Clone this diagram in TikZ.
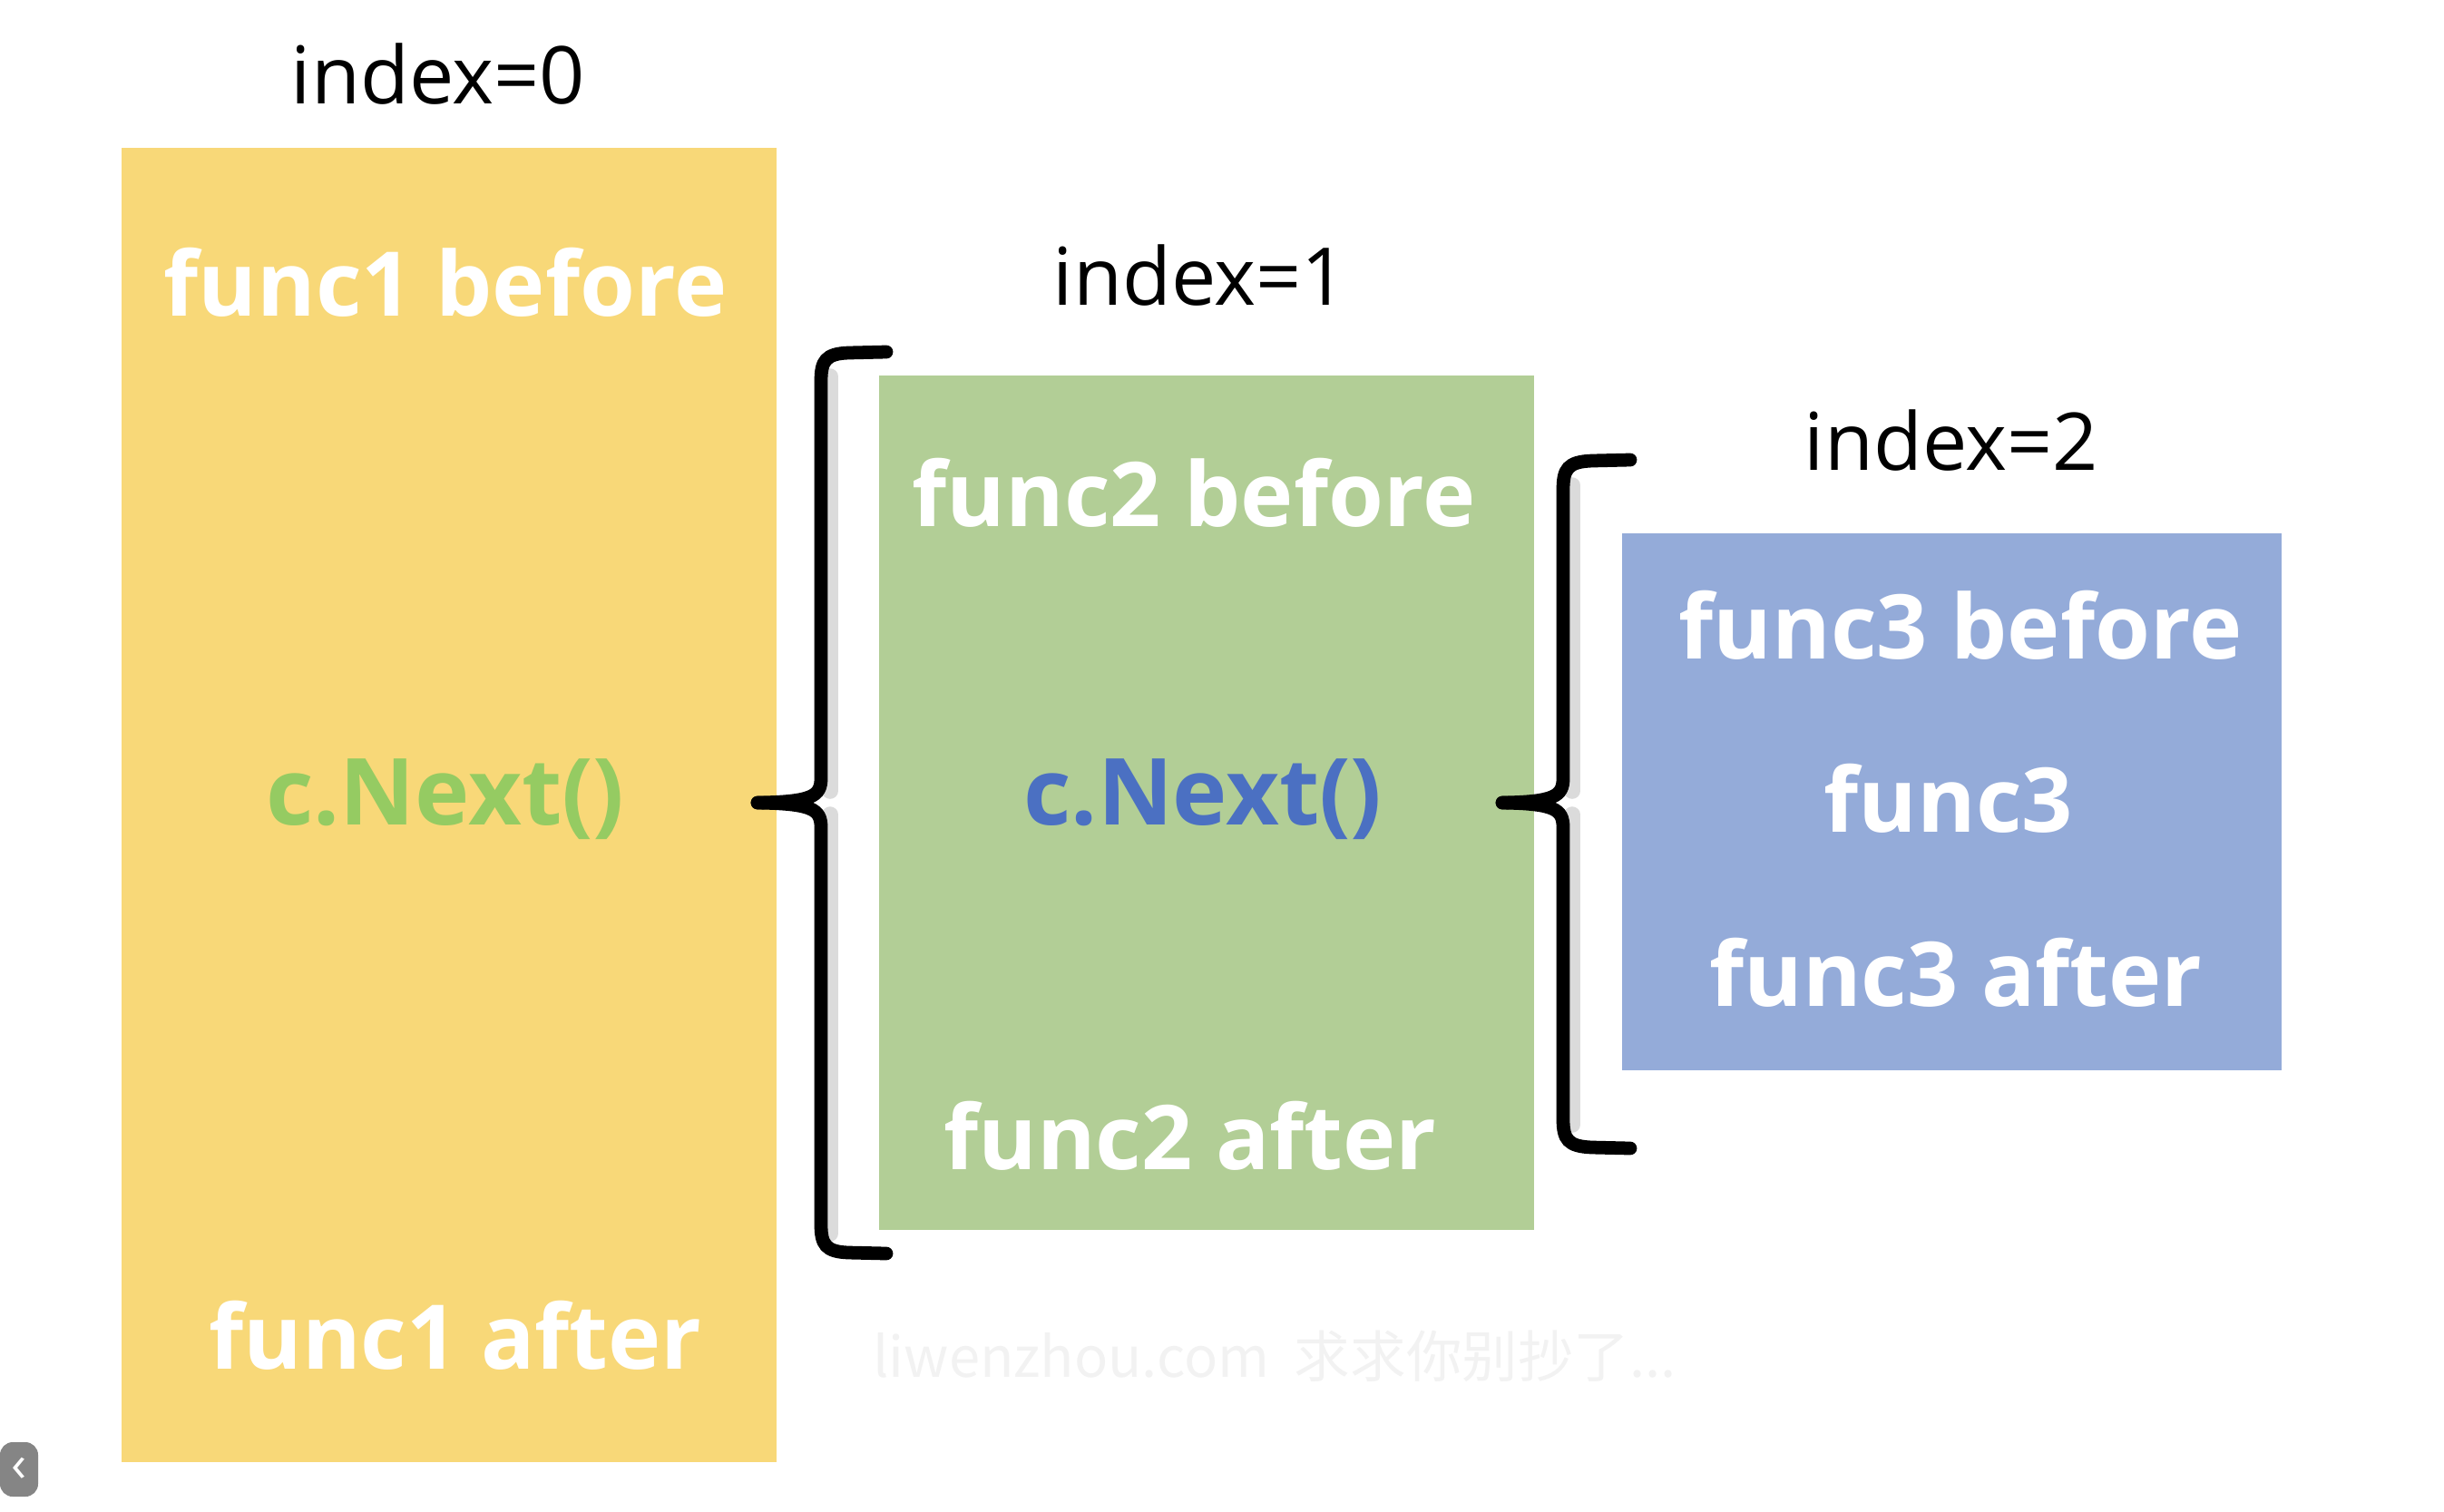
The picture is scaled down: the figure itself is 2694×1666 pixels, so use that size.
\documentclass[tikz,border=0pt]{standalone}
\usepackage{fontspec}
\setmainfont{Open Sans}
\newfontfamily\cjkfont{Noto Sans CJK SC}
\usetikzlibrary{positioning}
\definecolor{boxyellow}{HTML}{F8D878}
\definecolor{boxgreen}{HTML}{B2CE96}
\definecolor{boxblue}{HTML}{94ABD9}
\definecolor{nextgreen}{HTML}{95CB62}
\definecolor{nextblue}{HTML}{4B70C2}
\tikzstyle{block} = [rectangle, inner sep=0pt, minimum width=7.22cm]
\tikzstyle{func} = [text=white, font=\fontsize{28}{34}\selectfont\bfseries, inner sep=0pt]
\tikzstyle{next} = [font=\fontsize{29}{34}\selectfont\bfseries, inner sep=0pt]
\tikzstyle{index} = [font=\fontsize{25}{30}\selectfont, inner sep=0pt]
\tikzstyle{brace} = [line width=4.2pt, line cap=round]
\tikzstyle{braceshadow} = [line width=5pt, gray!28, line cap=round]

\begin{document}
\begin{tikzpicture}[x=0.01cm, y=-0.01cm]
    \useasboundingbox (0,0) rectangle (2694,1666);

    \node [block, fill=boxyellow, minimum height=14.49cm] (yellow) at (495,887.5) {};
    \node [block, fill=boxgreen, minimum height=9.42cm] (green) at (1330,885) {};
    \node [block, fill=boxblue, minimum width=7.27cm, minimum height=5.92cm] (blue) at (2151.5,884) {};

    \node [index] (idx0) at (483,82) {index=0};
    \node [index] (idx1) at (1323,304) {index=1};
    \node [index] (idx2) at (2151,486) {index=2};

    \node [func] (f1before) at (491,311) {func1 before};
    \node [next, text=nextgreen] (next1) at (491,881) {c.Next()};
    \node [func] (f1after) at (502,1472) {func1 after};

    \node [func] (f2before) at (1316,543) {func2 before};
    \node [next, text=nextblue] (next2) at (1326,881) {c.Next()};
    \node [func] (f2after) at (1312,1252) {func2 after};

    \node [func] (f3before) at (2161,689) {func3 before};
    \node [func] (f3) at (2148,880) {func3};
    \node [func] (f3after) at (2156,1072) {func3 after};

    % braces from each c.Next() to the next box
    \coordinate (tip1) at (835,885);
    \coordinate (top1) at (977,388);
    \coordinate (bot1) at (977,1382);
    \coordinate (tip2) at (1656,885);
    \coordinate (top2) at (1797,507);
    \coordinate (bot2) at (1797,1266);

    \draw[braceshadow] (915,415) -- (915,872);
    \draw[braceshadow] (915,898) -- (915,1360);
    \draw[braceshadow] (1733,535) -- (1733,872);
    \draw[braceshadow] (1733,898) -- (1733,1240);

    \draw[brace] (top1) -- (935,389) .. controls (910,390) and (905,398) .. (905,420)
        -- (905,858) .. controls (905,878) and (895,884) .. (tip1);
    \draw[brace] (bot1) -- (935,1381) .. controls (910,1380) and (905,1372) .. (905,1350)
        -- (905,912) .. controls (905,892) and (895,886) .. (tip1);
    \draw[brace] (top2) -- (1755,508) .. controls (1728,509) and (1723,517) .. (1723,540)
        -- (1723,858) .. controls (1723,878) and (1713,884) .. (tip2);
    \draw[brace] (bot2) -- (1755,1265) .. controls (1728,1264) and (1723,1256) .. (1723,1234)
        -- (1723,912) .. controls (1723,892) and (1713,886) .. (tip2);

    \node [text=black!5, font=\cjkfont\fontsize{17.5}{20}\selectfont, inner sep=0pt] (mark) at (1405,1495) {liwenzhou.com\ \ 求求你别抄了...};

    \node [fill=black!48, rounded corners=4pt, minimum width=0.42cm, minimum height=0.6cm,
           inner sep=0pt, text=white, font=\fontsize{16}{18}\selectfont] (back) at (21,1620) {‹};
\end{tikzpicture}
\end{document}
